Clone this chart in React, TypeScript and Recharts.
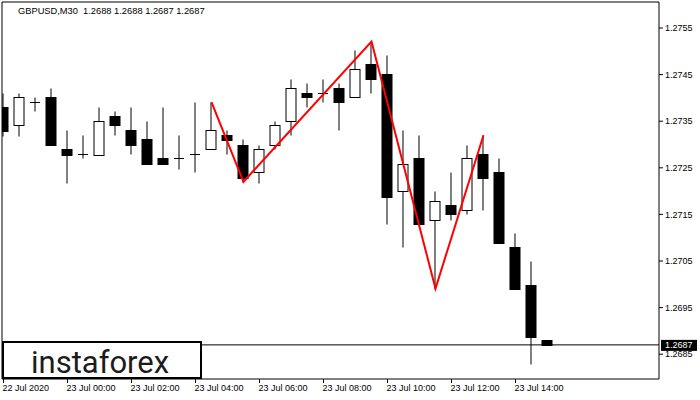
import React from 'react';
import { ComposedChart, Bar, Line, XAxis, YAxis, ReferenceLine, ReferenceArea } from 'recharts';

// GBPUSD M30 candles (index 0 = 22 Jul 22:00)
const candleIndex = Array.from({ length: 35 }, (_, i) => i);
const opens = [1.2738, 1.27341, 1.27391, 1.27401, 1.2729, 1.27279, 1.27278, 1.27361, 1.27331, 1.27311, 1.27271, 1.27271, 1.27279, 1.2729, 1.2732, 1.273, 1.2724, 1.273, 1.2735, 1.2741, 1.2741, 1.27421, 1.27401, 1.27472, 1.27451, 1.272, 1.2727, 1.27139, 1.2717, 1.27159, 1.27279, 1.2724, 1.27079, 1.26998, 1.2688];
const highs = [1.2741, 1.2741, 1.27401, 1.27421, 1.27331, 1.2732, 1.2738, 1.27371, 1.2738, 1.2735, 1.2738, 1.2732, 1.27391, 1.27391, 1.27331, 1.27311, 1.273, 1.2735, 1.2744, 1.27431, 1.2744, 1.27431, 1.27503, 1.27521, 1.27492, 1.27331, 1.2732, 1.272, 1.2724, 1.273, 1.2732, 1.2727, 1.27111, 1.2705, 1.2688];
const lows = [1.27318, 1.27318, 1.27371, 1.273, 1.27218, 1.2727, 1.27278, 1.2732, 1.27279, 1.27259, 1.27259, 1.27248, 1.2724, 1.2729, 1.27279, 1.2722, 1.27218, 1.2729, 1.2732, 1.2738, 1.27391, 1.27331, 1.27401, 1.2741, 1.27129, 1.27079, 1.27129, 1.26991, 1.27139, 1.2715, 1.27159, 1.27088, 1.26989, 1.26828, 1.2687];
const closes = [1.2733, 1.27401, 1.27391, 1.273, 1.27278, 1.27279, 1.2735, 1.27341, 1.273, 1.27259, 1.27259, 1.27271, 1.27279, 1.27331, 1.2731, 1.27229, 1.2729, 1.27341, 1.27421, 1.27401, 1.2741, 1.27391, 1.27461, 1.2744, 1.27188, 1.27259, 1.27129, 1.27179, 1.2715, 1.2727, 1.27229, 1.27088, 1.26989, 1.26888, 1.2687];

// zigzag pattern (red line)
const zigzagIndex = [13, 15, 23, 27, 30];
const zigzagPrice = [1.27391, 1.2722, 1.27521, 1.26991, 1.2732];

// axes
const xTickPositions = [0, 4, 8, 12, 16, 20, 24, 28, 32];
const xTickLabels = ['22 Jul 2020', '23 Jul 00:00', '23 Jul 02:00', '23 Jul 04:00', '23 Jul 06:00', '23 Jul 08:00', '23 Jul 10:00', '23 Jul 12:00', '23 Jul 14:00'];
const yTicks = [1.2685, 1.2695, 1.2705, 1.2715, 1.2725, 1.2735, 1.2745, 1.2755];
const xDomain = [-0.094, 40.969];
const yDomain = [1.267968, 1.276058];
const lastPrice = 1.2687;
const titleText = 'GBPUSD,M30  1.2688 1.2688 1.2687 1.2687';

const data = candleIndex.map((i) => {
  const zi = zigzagIndex.indexOf(i);
  return {
    i,
    o: opens[i],
    h: highs[i],
    l: lows[i],
    c: closes[i],
    range: [lows[i], highs[i]],
    zz: zi >= 0 ? zigzagPrice[zi] : null,
  };
});

const FONT = '"Liberation Sans", Arial, sans-serif';

const Candle = (props: any) => {
  const { x, y, width, height, payload } = props;
  if (x == null || y == null || !payload) return null;
  const { o, h, l, c } = payload;
  const top = Math.min(y, y + height);
  const hh = Math.abs(height);
  const py = (p: number) => top + ((h - p) / (h - l)) * hh;
  const cx = x + width / 2;
  const snap = (v: number) => Math.round(v) + 0.5;
  const bodyTop = snap(py(Math.max(o, c)));
  const bodyBot = snap(py(Math.min(o, c)));
  const bull = c > o;
  return (
    <g>
      <line x1={cx} x2={cx} y1={snap(py(h))} y2={snap(py(l))} stroke="#000" strokeWidth={1} />
      {o === c ? (
        <line x1={cx - 5} x2={cx + 5} y1={bodyTop} y2={bodyTop} stroke="#000" strokeWidth={1} />
      ) : (
        <rect x={cx - 5} y={bodyTop} width={10} height={Math.max(bodyBot - bodyTop, 1)} fill={bull ? '#fff' : '#000'} stroke="#000" strokeWidth={1} />
      )}
    </g>
  );
};

const XTick = (props: any) => {
  const { x, y, payload } = props;
  const idx = xTickPositions.indexOf(payload.value);
  return (
    <text x={x - 1} y={y} dy="0.71em" fontSize={9} fontFamily={FONT} fill="#000" textAnchor="start">
      {xTickLabels[idx]}
    </text>
  );
};

const YTick = (props: any) => {
  const { x, y, payload } = props;
  return (
    <text x={x} y={y} dy="0.35em" fontSize={9} fontFamily={FONT} fill="#000" textAnchor="start">
      {Number(payload.value).toFixed(4)}
    </text>
  );
};

const PriceTag = (props: any) => {
  const vb = props.viewBox || {};
  const left = vb.x + vb.width + 2;
  return (
    <g>
      <rect x={left} y={vb.y - 5} width={36} height={11} fill="#000" />
      <text x={left + 4} y={vb.y + 3.5} fontSize={9} fontFamily={FONT} fill="#fff">
        {lastPrice.toFixed(4)}
      </text>
    </g>
  );
};

export default function App() {
  return (
    <div style={{ position: 'absolute', left: 0, top: 0, width: 700, height: 400, background: '#fff' }}>
      <ComposedChart width={700} height={400} data={data} margin={{ top: 2, right: 0, left: 2, bottom: 0 }}>
        <XAxis
          dataKey="i"
          type="number"
          domain={xDomain}
          allowDataOverflow
          ticks={xTickPositions}
          tick={<XTick />}
          tickSize={4}
          tickMargin={2}
          tickLine={{ stroke: '#000' }}
          axisLine={false}
          height={21}
          interval={0}
        />
        <YAxis
          orientation="right"
          type="number"
          domain={yDomain}
          allowDataOverflow
          ticks={yTicks}
          tick={<YTick />}
          tickSize={4}
          tickMargin={2}
          tickLine={{ stroke: '#000' }}
          axisLine={false}
          width={41}
          interval={0}
        />
        <ReferenceArea x1={xDomain[0]} x2={xDomain[1]} y1={yDomain[0]} y2={yDomain[1]} fill="none" stroke="#000" strokeWidth={1} fillOpacity={0} />
        <ReferenceLine y={lastPrice} stroke="#000" strokeWidth={1} label={PriceTag} />
        <Bar dataKey="range" barSize={11} shape={<Candle />} isAnimationActive={false} />
        <Line
          dataKey="zz"
          type="linear"
          stroke="#ff0000"
          strokeWidth={2}
          dot={false}
          activeDot={false}
          connectNulls
          isAnimationActive={false}
        />
      </ComposedChart>
      <svg width={700} height={400} style={{ position: 'absolute', left: 0, top: 0, pointerEvents: 'none' }}>
        <text x={18} y={14} fontSize={9.3} fontFamily={FONT} fill="#000" style={{ whiteSpace: 'pre' }}>
          {titleText}
        </text>
        <rect x={3} y={342} width={198} height={36} fill="#fff" stroke="#000" strokeWidth={2} />
        <text x={31} y={372.5} fontSize={31} fontFamily="Roboto, sans-serif" fill="#1c1c1c">
          instaforex
        </text>
      </svg>
    </div>
  );
}
